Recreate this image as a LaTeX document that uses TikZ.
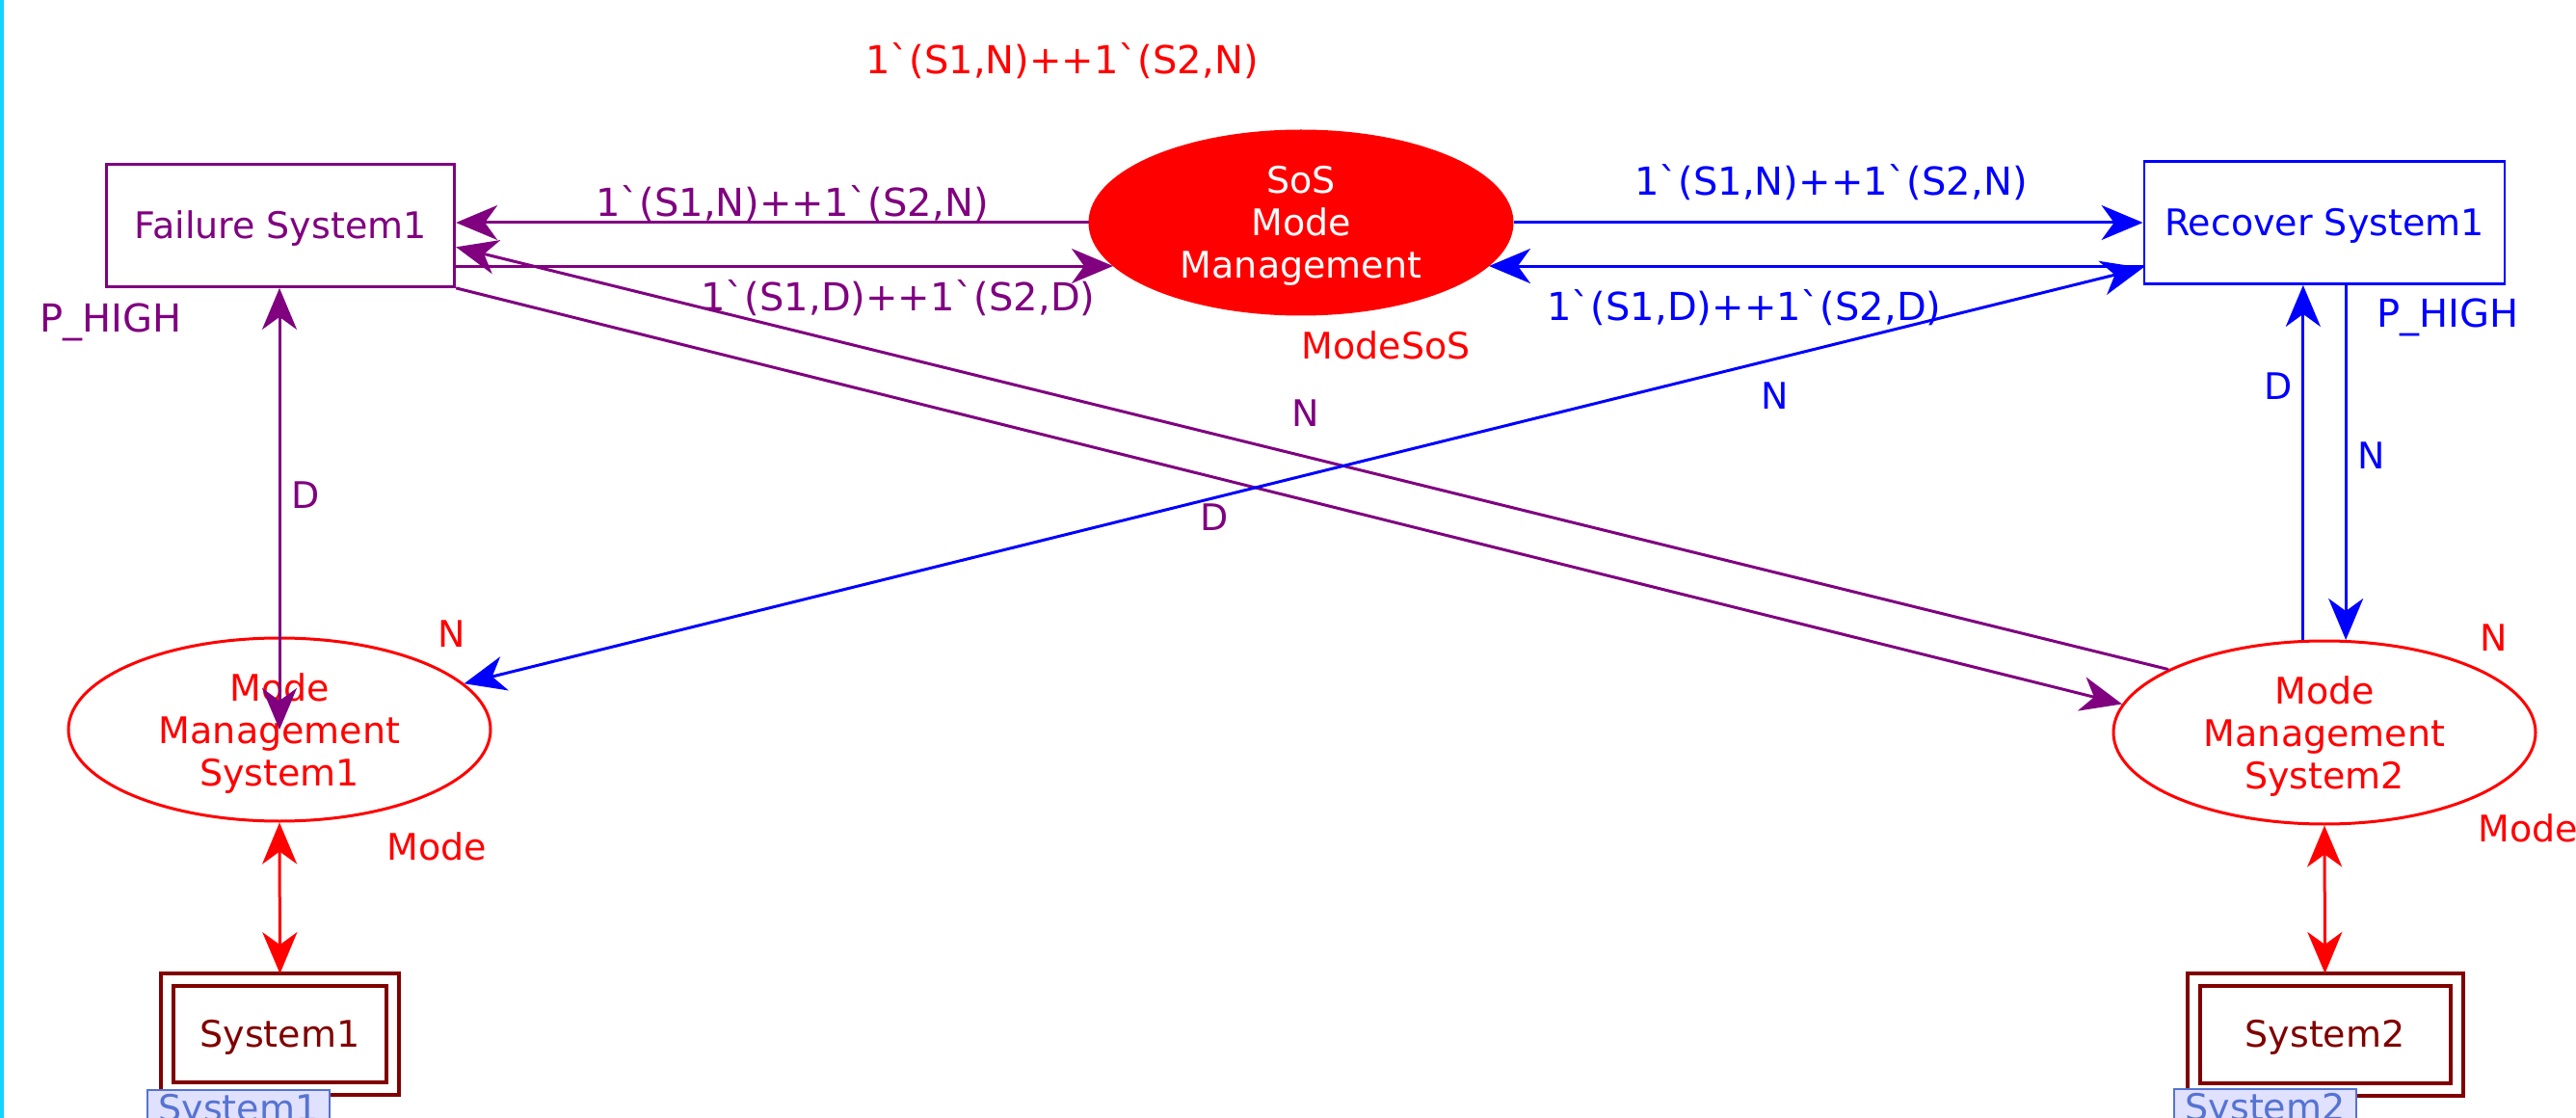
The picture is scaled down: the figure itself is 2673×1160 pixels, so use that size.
\documentclass[tikz,border=0pt]{standalone}
\usepackage{fontspec}
\newfontfamily\cpnfont{DejaVu Sans}
\usetikzlibrary{arrows.meta,shapes.geometric,calc}
\definecolor{cpnpurple}{RGB}{128,0,128}
\definecolor{cpnblue}{RGB}{0,0,255}
\definecolor{cpnred}{RGB}{255,0,0}
\definecolor{cpndark}{RGB}{128,0,0}
\definecolor{edgecyan}{RGB}{20,210,255}
\definecolor{tagfill}{RGB}{224,224,255}
\definecolor{tagline}{RGB}{85,115,210}
\begin{document}
\begin{tikzpicture}[x=0.5pt,y=-0.5pt,
  >={Stealth[length=21.5pt,width=18pt,inset=6.5pt]},
  every node/.style={font=\cpnfont\fontsize{19}{22}\selectfont},
  trans/.style={draw, rectangle, line width=1.4pt, minimum height=63.5pt, inner sep=0pt, text height=13.5pt, text depth=0pt},
  place/.style={ellipse, draw=cpnred, line width=1.5pt, minimum width=219pt, minimum height=95pt, inner sep=0pt, text width=150pt, align=center, text height=14pt, text depth=44pt},
  sysbox/.style={draw=cpndark, double=white, double distance=4.5pt, line width=2pt, text=cpndark, inner sep=0pt, outer sep=3pt, text height=13.5pt, text depth=0pt},
  tagbox/.style={draw=tagline, fill=tagfill, text=tagline, line width=1pt, minimum width=94.5pt, inner xsep=0pt, inner ysep=2pt, anchor=north},
  lab/.style={anchor=base, inner sep=0pt},
  insc/.style={lab, font=\cpnfont\fontsize{20}{22}\selectfont},
  pline/.style={draw=cpnpurple, line width=1.5pt},
  bline/.style={draw=cpnblue, line width=1.5pt},
  rline/.style={draw=cpnred, line width=1.5pt}]
\fill[white] (0,0) rectangle (2673,1160);
\useasboundingbox (0,0) rectangle (2673,1160);
\fill[edgecyan] (0,0) rectangle (3.5,1160);

% transitions
\node[trans, draw=cpnpurple, text=cpnpurple, minimum width=180.5pt] (fs) at (291.25,234) {Failure System1};
\node[trans, draw=cpnblue, text=cpnblue, minimum width=187pt] (rs) at (2412,231) {Recover System1};

% places
\node[place, fill=cpnred, text=white] (sos) at (1350,231) {SoS\\Mode\\Management};
\node[place, text=cpnred] (mms1) at (290,757) {Mode\\Management\\System1};
\node[place, text=cpnred] (mms2) at (2412,760) {Mode\\Management\\System2};

% substitution boxes
\node[sysbox, minimum width=117pt, minimum height=56.75pt] (sys1) at (290.5,1073) {System1};
\node[sysbox, minimum width=136.5pt, minimum height=57pt] (sys2) at (2412.5,1073) {System2};
\node[tagbox] (tag1) at (247.5,1130) {System1};
\node[tagbox] (tag2) at (2350.5,1129) {System2};

% purple arcs
\draw[pline,->] (sos.west) -- (sos.west -| fs.east);
\draw[pline,->] (fs.east |- sos.193) -- (sos.193);
\draw[pline,->] (fs.south east) -- (mms2.172);
\draw[pline,->] (mms2.158) -- (fs.-7);
\draw[pline,<->] (mms1.center) -- (mms1.center |- fs.south);
% blue arcs
\draw[bline,->] (sos.east) -- (sos.east -| rs.west);
\draw[bline,->] (rs.west |- sos.-13) -- (sos.-13);
\draw[bline,<->] (mms1.14) -- (rs.194);
\draw[bline,->] (mms2.103) -- (mms2.103 |- rs.south);
\draw[bline,->] (mms2.77 |- rs.south) -- (mms2.77);
% red arcs
\draw[rline,<->] (mms1.south) -- (sys1.north);
\draw[rline,<->] (mms2.south) -- (sys2.north);

% inscriptions and labels
\node[insc,text=cpnred] (ini) at (1102,77) {1`(S1,N)++1`(S2,N)};
\node[insc,text=cpnpurple] (a1) at (822,225) {1`(S1,N)++1`(S2,N)};
\node[insc,text=cpnpurple] (a2) at (932,323) {1`(S1,D)++1`(S2,D)};
\node[insc,text=cpnblue] (a3) at (1900,203) {1`(S1,N)++1`(S2,N)};
\node[insc,text=cpnblue] (a4) at (1810,333) {1`(S1,D)++1`(S2,D)};
\node[lab,text=cpnred] (c0) at (1438,373) {ModeSoS};
\node[insc,text=cpnpurple] (g1) at (115,345) {P\_HIGH};
\node[lab,text=cpnpurple] (a5) at (317,528) {D};
\node[lab,text=cpnpurple] (a6) at (1355,443) {N};
\node[lab,text=cpnpurple] (a7) at (1260,551) {D};
\node[lab,text=cpnblue] (a8) at (1842,425) {N};
\node[lab,text=cpnred] (a9) at (469,671) {N};
\node[lab,text=cpnred] (c1) at (453,892) {Mode};
\node[lab,text=cpnred] (a10) at (2588,675) {N};
\node[lab,text=cpnred,anchor=base west] (c2) at (2571,873) {Mode};
\node[lab,text=cpnblue] (a11) at (2364,415) {D};
\node[lab,text=cpnblue] (a12) at (2461,487) {N};
\node[insc,text=cpnblue] (g2) at (2540,340) {P\_HIGH};
\end{tikzpicture}
\end{document}
